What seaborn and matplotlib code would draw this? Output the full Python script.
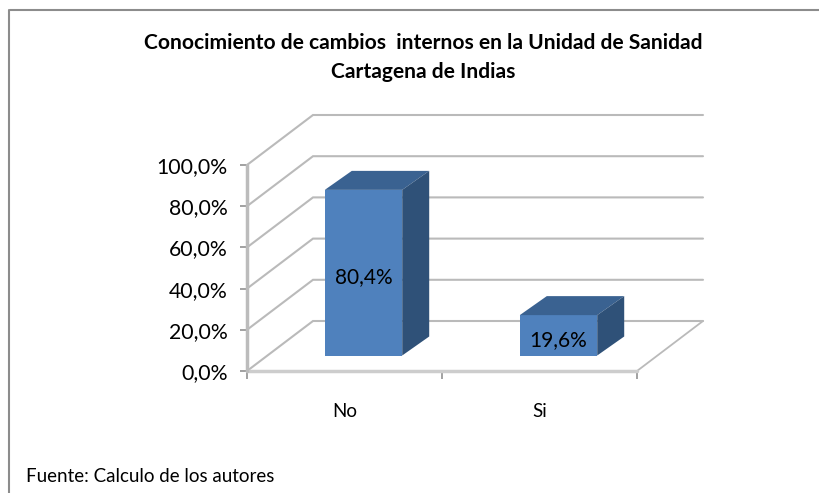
import matplotlib
matplotlib.use('Agg')
import matplotlib.pyplot as plt
from matplotlib.lines import Line2D
from matplotlib.patches import Polygon
import pandas as pd
import seaborn as sns

categories = ['No', 'Si']
values = [80.4, 19.6]
value_labels = ['80,4%', '19,6%']
y_ticks = [0, 20, 40, 60, 80, 100]
y_tick_labels = ['0,0%', '20,0%', '40,0%', '60,0%', '80,0%', '100,0%']
title = 'Conocimiento de cambios  internos en la Unidad de Sanidad\nCartagena de Indias'
source = 'Fuente: Calculo de los autores'

sns.set_theme(style='white')
plt.rcParams['font.family'] = ['Lato', 'DejaVu Sans']

W, H = 820, 493
fig = plt.figure(figsize=(W / 100, H / 100), dpi=100)
ax = fig.add_axes([247 / W, (H - 371) / H, 390 / W, 206 / H])

df = pd.DataFrame({'cat': categories, 'val': values})
sns.barplot(data=df, x='cat', y='val', color='#4F81BD', saturation=1, width=0.397,
            linewidth=0, ax=ax, zorder=3)
ax.set_xlim(-0.5, 1.5)
ax.set_ylim(0, 100)

# depth of the fake 3d box, in data units
depth_x, depth_y = 66 / 195, 50 / 2.06
bar_ox, bar_oy = 19 / 195, 15.5 / 2.06
bar_dx, bar_dy = 27 / 195, 19 / 2.06

grid_c = '#bababa'
x0, x1 = -0.5, 1.5
for t in y_ticks:
    ax.plot([x0, x0 + depth_x, x1 + depth_x], [t, t + depth_y, t + depth_y],
            color=grid_c, lw=1.5, clip_on=False, zorder=1, solid_joinstyle='miter')
# floor
ax.plot([x1, x1 + depth_x], [0, depth_y], color=grid_c, lw=1.3, clip_on=False, zorder=1)
ax.plot([x0, x1], [0, 0], color='#cdcdcd', lw=2.5, clip_on=False, zorder=2)
ax.plot([x0, x0], [0, 100], color='#bcbcbc', lw=2.5, clip_on=False, zorder=2)

for p, lab in zip(list(ax.patches), value_labels):
    p.set_x(p.get_x() + bar_ox)
    p.set_y(bar_oy)
    l, r = p.get_x(), p.get_x() + p.get_width()
    b, t = bar_oy, bar_oy + p.get_height()
    ax.add_patch(Polygon([(l, t), (r, t), (r + bar_dx, t + bar_dy), (l + bar_dx, t + bar_dy)],
                         closed=True, fc='#3A6291', ec='none', zorder=3, clip_on=False))
    ax.add_patch(Polygon([(r, b), (r + bar_dx, b + bar_dy), (r + bar_dx, t + bar_dy), (r, t)],
                         closed=True, fc='#2F5178', ec='none', zorder=3, clip_on=False))
    ax.text((l + r) / 2, (b + t) / 2 - 2.3, lab, ha='center', va='center', fontsize=15, color='black', zorder=5)

sns.despine(ax=ax, left=True, bottom=True, top=True, right=True)
ax.set_xlabel('')
ax.set_ylabel('')
ax.set_yticks(y_ticks)
ax.set_yticklabels(y_tick_labels, fontsize=15.3, color='black')
ax.set_xticks([0, 1])
ax.set_xticklabels(categories, fontsize=13.5, color='black')
ax.set_xticks([-0.5, 0.5, 1.5], minor=True)
ax.tick_params(axis='y', which='major', left=True, length=5, width=1.3, color='#9a9a9a', pad=9)
ax.tick_params(axis='x', which='major', bottom=False, pad=17)
ax.tick_params(axis='x', which='minor', bottom=True, length=6, width=1.3, color='#9a9a9a')

fig.text(423 / W, 1 - 42.5 / H, title.split('\n')[0], ha='center', va='center', fontsize=15.1, fontweight='bold', color='black')
fig.text(423 / W, 1 - 71.5 / H, title.split('\n')[1], ha='center', va='center', fontsize=15.1, fontweight='bold', color='black')
fig.text(26 / W, 1 - 477 / H, source, ha='left', va='center', fontsize=13.5, color='black')

# chart frame
fig.add_artist(Line2D([10 / W, 1], [1 - 10 / H, 1 - 10 / H], color='#8c8c8c', lw=1.5))
fig.add_artist(Line2D([9.5 / W, 9.5 / W], [0, 1 - 10 / H], color='#8c8c8c', lw=1.5))

fig.savefig('out.png', dpi=100)
